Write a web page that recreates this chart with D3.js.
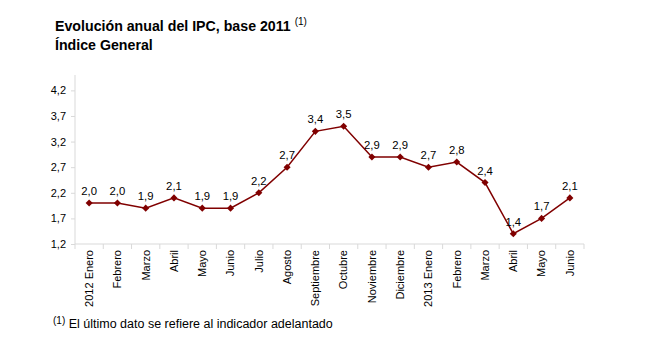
<!DOCTYPE html>
<html><head><meta charset="utf-8">
<script src="https://cdn.jsdelivr.net/npm/d3@7"></script>
<style>body{margin:0;background:#fff}svg{display:block}text{font-family:"Liberation Sans",Arial,sans-serif}</style>
</head><body>
<svg id="c" width="669" height="339"></svg>
<script>
const categories = ["2012 Enero","Febrero","Marzo","Abril","Mayo","Junio","Julio","Agosto","Septiembre","Octubre","Noviembre","Diciembre","2013 Enero","Febrero","Marzo","Abril","Mayo","Junio"];
const values = [2.0,2.0,1.9,2.1,1.9,1.9,2.2,2.7,3.4,3.5,2.9,2.9,2.7,2.8,2.4,1.4,1.7,2.1];
const yTicks = [1.2,1.7,2.2,2.7,3.2,3.7,4.2];

const svg = d3.select("#c");
const fmt = v => d3.format(".1f")(v).replace(".", ",");
const idx = categories.map((c,i)=>i);
const x = d3.scaleBand().domain(idx).range([75, 584]);
const y = d3.scaleLinear().domain([1.2, 4.5]).range([244, 75]);
const grid = "#d9d9d9";
const col = "#800000";

// title
const t = svg.append("text").attr("x",55).attr("y",31).attr("font-size",14.2).attr("font-weight","bold").attr("fill","#000");
t.append("tspan").text("Evolución anual del IPC, base 2011 ");
t.append("tspan").attr("font-size",10).attr("font-weight","normal").attr("dy",-6).text("(1)");
svg.append("text").attr("x",55).attr("y",50).attr("font-size",14.2).attr("font-weight","bold").text("Índice General");

// y axis
const ya = svg.append("g").attr("transform","translate(75,0)").call(d3.axisLeft(y).tickValues(yTicks).tickFormat(fmt).tickSize(4).tickSizeOuter(0));
ya.select(".domain").attr("stroke",grid).attr("d","M0,75V244");
ya.selectAll(".tick line").attr("stroke",grid);
ya.selectAll(".tick text").attr("font-size",11).attr("fill","#000").attr("x",-9).style("font-family","'Liberation Sans',Arial,sans-serif");

// x axis
const xa = svg.append("g").attr("transform","translate(0,244)").call(d3.axisBottom(x).tickFormat(i=>categories[i]).tickSize(0));
xa.select(".domain").attr("stroke",grid).attr("d","M75,0H584");
xa.selectAll(".tick text").attr("font-size",11).attr("fill","#000")
  .attr("transform","rotate(-90)").attr("text-anchor","end").attr("x",-6).attr("y",0).attr("dy","0.35em")
  .style("font-family","'Liberation Sans',Arial,sans-serif");
// boundary ticks
const bounds = idx.map(i=>x(i)).concat([x.range()[1]]);
svg.append("g").selectAll("line").data(bounds).join("line")
  .attr("x1",d=>d).attr("x2",d=>d).attr("y1",244).attr("y2",249).attr("stroke",grid);

// line
const cx = i => x(i) + x.bandwidth()/2;
svg.append("path").datum(values).attr("fill","none").attr("stroke",col).attr("stroke-width",1.5)
  .attr("d", d3.line().x((d,i)=>cx(i)).y(d=>y(d)));
svg.append("g").selectAll("path").data(values).join("path")
  .attr("d", d3.symbol(d3.symbolDiamond2, 32))
  .attr("transform",(d,i)=>`translate(${cx(i)},${y(d)})`).attr("fill",col);
svg.append("g").selectAll("text").data(values).join("text")
  .attr("x",(d,i)=>cx(i)).attr("y",d=>y(d)-8).attr("text-anchor","middle").attr("font-size",11.3).text(fmt);

// footnote
const f = svg.append("text").attr("x",53).attr("y",328).attr("font-size",12.5);
f.append("tspan").attr("font-size",10).attr("dy",-4).text("(1)");
f.append("tspan").attr("dy",4).text(" El último dato se refiere al indicador adelantado");
</script>
</body></html>
